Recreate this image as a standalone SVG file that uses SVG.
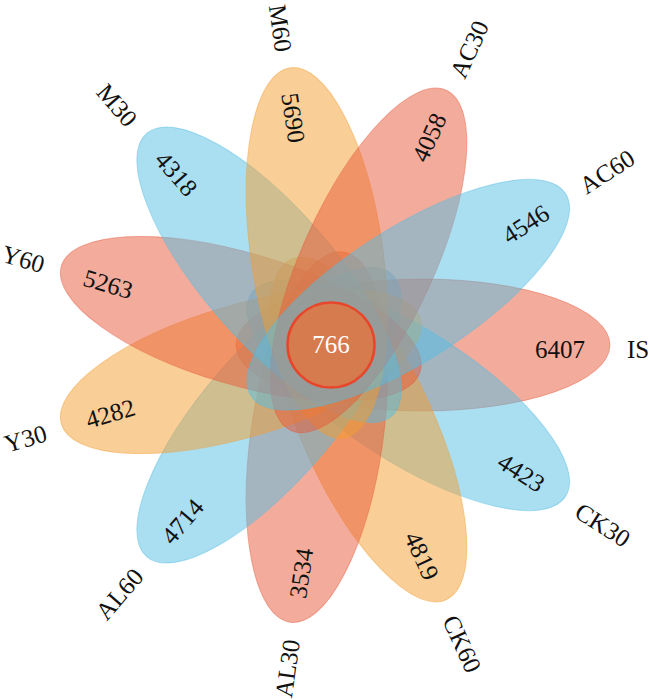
<svg xmlns="http://www.w3.org/2000/svg" width="650" height="700" viewBox="0 0 650 700">
<style>
.s{fill:#E7593A;stroke:#E7593A}
.b{fill:#55BDE3;stroke:#55BDE3}
.o{fill:#F39D30;stroke:#F39D30}
.pet{fill-opacity:0.5;stroke-opacity:0.45;stroke-width:1}
text{font-family:"Liberation Serif","Times New Roman",serif;font-size:25px;fill:#111}
.v{text-anchor:middle}
.ls{text-anchor:start}
.le{text-anchor:end}
.core{fill:#fff;text-anchor:middle}
</style>
<rect width="650" height="700" fill="#fff"/>
<g id="petals">
<g id="IS"><ellipse class="pet s" rx="187" ry="66" transform="translate(330,345) rotate(0) translate(93,0)"/></g>
<g id="CK30"><ellipse class="pet b" rx="187" ry="66" transform="translate(330,345) rotate(32.727) translate(93,0)"/></g>
<g id="CK60"><ellipse class="pet o" rx="187" ry="66" transform="translate(330,345) rotate(65.455) translate(93,0)"/></g>
<g id="AL30"><ellipse class="pet s" rx="187" ry="66" transform="translate(330,345) rotate(98.182) translate(93,0)"/></g>
<g id="AL60"><ellipse class="pet b" rx="187" ry="66" transform="translate(330,345) rotate(130.909) translate(93,0)"/></g>
<g id="Y30"><ellipse class="pet o" rx="187" ry="66" transform="translate(330,345) rotate(163.636) translate(93,0)"/></g>
<g id="Y60"><ellipse class="pet s" rx="187" ry="66" transform="translate(330,345) rotate(196.364) translate(93,0)"/></g>
<g id="M30"><ellipse class="pet b" rx="187" ry="66" transform="translate(330,345) rotate(229.091) translate(93,0)"/></g>
<g id="M60"><ellipse class="pet o" rx="187" ry="66" transform="translate(330,345) rotate(261.818) translate(93,0)"/></g>
<g id="AC30"><ellipse class="pet s" rx="187" ry="66" transform="translate(330,345) rotate(294.545) translate(93,0)"/></g>
<g id="AC60"><ellipse class="pet b" rx="187" ry="66" transform="translate(330,345) rotate(327.273) translate(93,0)"/></g>
</g>
<g id="values">
<text class="v" dy="0.5em" transform="translate(330,345) rotate(0) translate(230,0)">6407</text>
<text class="v" dy="0.5em" transform="translate(330,345) rotate(32.727) translate(230,0)">4423</text>
<text class="v" dy="0.5em" transform="translate(330,345) rotate(65.455) translate(230,0)">4819</text>
<text class="v" dy="0.5em" transform="translate(330,345) rotate(98.182) translate(230,0) rotate(180)">3534</text>
<text class="v" dy="0.5em" transform="translate(330,345) rotate(130.909) translate(230,0) rotate(180)">4714</text>
<text class="v" dy="0.5em" transform="translate(330,345) rotate(163.636) translate(230,0) rotate(180)">4282</text>
<text class="v" dy="0.5em" transform="translate(330,345) rotate(196.364) translate(230,0) rotate(180)">5263</text>
<text class="v" dy="0.5em" transform="translate(330,345) rotate(229.091) translate(230,0) rotate(180)">4318</text>
<text class="v" dy="0.5em" transform="translate(330,345) rotate(261.818) translate(230,0) rotate(180)">5690</text>
<text class="v" dy="0.5em" transform="translate(330,345) rotate(-65.455) translate(230,0)">4058</text>
<text class="v" dy="0.5em" transform="translate(330,345) rotate(-32.727) translate(230,0)">4546</text>
</g>
<g id="labels">
<text class="ls" dy="0.5em" transform="translate(330,345) rotate(0) translate(297,0)">IS</text>
<text class="ls" dy="0.5em" transform="translate(330,345) rotate(32.727) translate(297,0)">CK30</text>
<text class="ls" dy="0.5em" transform="translate(330,345) rotate(65.455) translate(297,0)">CK60</text>
<text class="le" dy="0.5em" transform="translate(330,345) rotate(98.182) translate(297,0) rotate(180)">AL30</text>
<text class="le" dy="0.5em" transform="translate(330,345) rotate(130.909) translate(297,0) rotate(180)">AL60</text>
<text class="le" dy="0.5em" transform="translate(330,345) rotate(163.636) translate(297,0) rotate(180)">Y30</text>
<text class="le" dy="0.5em" transform="translate(330,345) rotate(196.364) translate(297,0) rotate(180)">Y60</text>
<text class="le" dy="0.5em" transform="translate(330,345) rotate(229.091) translate(297,0) rotate(180)">M30</text>
<text class="le" dy="0.5em" transform="translate(330,345) rotate(261.818) translate(297,0) rotate(180)">M60</text>
<text class="ls" dy="0.5em" transform="translate(330,345) rotate(-65.455) translate(297,0)">AC30</text>
<text class="ls" dy="0.5em" transform="translate(330,345) rotate(-32.727) translate(297,0)">AC60</text>
</g>
<g id="core">
<ellipse cx="331" cy="345" rx="43.5" ry="42.5" fill="#D67B4E" stroke="#E8462A" stroke-width="2.5"/>
<text class="core" x="331" y="353">766</text>
</g>
</svg>
